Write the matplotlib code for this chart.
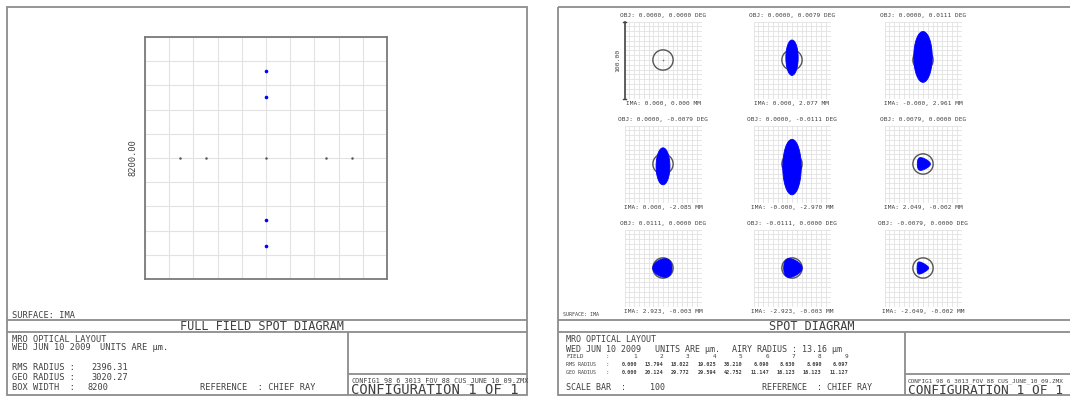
import numpy as np
import matplotlib
matplotlib.use('Agg')
import matplotlib.pyplot as plt
from matplotlib.patches import Circle, Polygon, Rectangle

W, H = 1070, 396
DPI = 100

MONO = 'DejaVu Sans Mono'
TXT = '#404040'
EDGE = '#8c8c8c'
GRID = '#e2e2e2'
SPOT = '#0000ff'

# field data (image plane in mm, object angle in deg, radii in microns)
fields = [1, 2, 3, 4, 5, 6, 7, 8, 9]
obj_x = [0.0000, 0.0000, 0.0000, 0.0000, 0.0000, 0.0079, 0.0111, -0.0111, -0.0079]
obj_y = [0.0000, 0.0079, 0.0111, -0.0079, -0.0111, 0.0000, 0.0000, 0.0000, 0.0000]
ima_x = [0.000, 0.000, -0.0, 0.000, -0.0, 2.049, 2.923, -2.923, -2.049]
ima_y = [0.000, 2.077, 2.961, -2.085, -2.970, -0.002, -0.003, -0.003, -0.002]
rms_radius = [0.000, 13.794, 18.022, 19.025, 38.210, 6.090, 8.630, 8.690, 6.097]
geo_radius = [0.000, 20.124, 29.772, 29.594, 42.752, 11.147, 16.123, 16.123, 11.127]
airy_radius = 13.16
scale_bar = 100
box_width = 8200
full_rms = 2396.31
full_geo = 3020.27

# spot outline sizes (microns): half widths, trefoil term and offset from chief ray
spot_a = [0.0, 8.0, 12.0, 9.0, 12.0, 8.5, 12.5, 12.0, 7.5]
spot_b = [0.0, 23.0, 33.0, 24.0, 36.0, 8.0, 12.0, 12.0, 7.5]
spot_c = [0.0, 0.0, 0.0, 0.0, 0.0, 1.1, -0.8, 1.2, 1.3]
spot_dx = [0.0, 0.0, 0.0, 0.0, 0.0, 0.0, 0.0, 0.0, -1.5]
spot_dy = [0.0, 3.0, 4.0, -3.0, -4.0, 0.0, 0.0, 0.0, 0.0]

fig = plt.figure(figsize=(W / DPI, H / DPI), dpi=DPI, facecolor='white')

bg = fig.add_axes([0, 0, 1, 1])
bg.set_xlim(0, W)
bg.set_ylim(H, 0)
bg.axis('off')


def px_axes(cx, cy, half):
    return fig.add_axes([(cx - half) / W, 1 - (cy + half) / H, 2 * half / W, 2 * half / H])


def line(x0, y0, x1, y1):
    bg.plot([x0, x1], [y0, y1], color=EDGE, lw=1.3, solid_capstyle='butt', zorder=1)


def txt(x, y, s, fs, ha='left', **kw):
    bg.text(x, y, s, fontsize=fs, ha=ha, va='center', family=MONO, color=TXT, **kw)


# ---------------- full field panel ----------------
bg.add_patch(Rectangle((7, 7), 520, 388, fill=False, ec=EDGE, lw=1.3))
line(7, 320, 527, 320)
line(7, 332, 527, 332)
line(348, 332, 348, 395)
line(348, 374, 527, 374)

ax = px_axes(266, 158, 121)
half = box_width / 2000.0
ax.set_xlim(-half, half)
ax.set_ylim(-half, half)
ticks = np.linspace(-half, half, 11)
ax.set_xticks(ticks)
ax.set_yticks(ticks)
ax.tick_params(length=0, labelbottom=False, labelleft=False)
ax.grid(True, color=GRID, lw=0.8)
for sp in ax.spines.values():
    sp.set_color('#7a7a7a')
    sp.set_linewidth(1.3)
for i in range(len(fields)):
    vertical = abs(ima_y[i]) > 1
    ax.plot(ima_x[i], ima_y[i], 'o',
            ms=2.6 if vertical else 1.8,
            color=SPOT if vertical else '#555566', mew=0)

txt(133, 158, '%.2f' % box_width, 6.3, ha='center', rotation=90)
txt(12, 315, 'SURFACE: IMA', 6.2)
txt(262, 326, 'FULL FIELD SPOT DIAGRAM', 8.6, ha='center')
txt(12, 340, 'MRO OPTICAL LAYOUT', 6.2)
txt(12, 348, 'WED JUN 10 2009', 6.2)
txt(100, 348, 'UNITS ARE \u00b5m.', 6.2)
txt(12, 368, 'RMS RADIUS :', 6.2)
txt(128, 368, '%.2f' % full_rms, 6.2, ha='right')
txt(12, 377, 'GEO RADIUS :', 6.2)
txt(128, 377, '%.2f' % full_geo, 6.2, ha='right')
txt(12, 388, 'BOX WIDTH  :', 6.2)
txt(88, 388, '%d' % box_width, 6.2)
txt(200, 388, 'REFERENCE  : CHIEF RAY', 6.2)
txt(351, 381, 'CONFIG1_98_6_3013_FOV_88_CUS_JUNE_10_09.ZMX', 4.9)
txt(351, 390, 'CONFIGURATION 1 OF 1', 10)

# ---------------- spot diagram panel ----------------
bg.add_patch(Rectangle((558, 7), 540, 388, fill=False, ec=EDGE, lw=1.3, clip_on=False))
line(558, 320, 1070, 320)
line(558, 332, 1070, 332)
line(905, 332, 905, 395)
line(905, 374, 1070, 374)

col_x = [663, 792, 923]
row_y = [60, 164, 268]
t = np.linspace(0, 2 * np.pi, 240)
for i, f in enumerate(fields):
    cx, cy = col_x[i % 3], row_y[i // 3]
    sax = px_axes(cx, cy, 38.5)
    sax.set_xlim(-scale_bar / 2, scale_bar / 2)
    sax.set_ylim(-scale_bar / 2, scale_bar / 2)
    g = np.linspace(-scale_bar / 2, scale_bar / 2, 17)
    sax.set_xticks(g)
    sax.set_yticks(g)
    sax.tick_params(length=0, labelbottom=False, labelleft=False)
    sax.grid(True, color=GRID, lw=0.6)
    for sp in sax.spines.values():
        sp.set_visible(False)
    sax.patch.set_alpha(0)
    sax.add_patch(Circle((0, 0), airy_radius, fill=False, ec='#555555', lw=1.0, zorder=2))
    if rms_radius[i] > 0:
        a, b, c = spot_a[i], spot_b[i], spot_c[i]
        xs = a * np.cos(t) + c * np.cos(2 * t) + spot_dx[i]
        ys = b * np.sin(t) - c * np.sin(2 * t) + spot_dy[i]
        sax.add_patch(Polygon(np.column_stack([xs, ys]), closed=True,
                              fc=SPOT, ec=SPOT, lw=0.6, zorder=3))
    else:
        sax.plot(0, 0, 'o', ms=1.2, color='#777799', mew=0, zorder=3)
    if i == 0:
        # scale bar along left edge
        sax.plot([-50, -50], [-50, 50], color='#444444', lw=1.2, clip_on=False, zorder=4)
        for yy in (-50, 50):
            sax.plot([-52.5, -47.5], [yy, yy], color='#444444', lw=1.0, clip_on=False, zorder=4)
        txt(cx - 45, cy, '%.2f' % scale_bar, 4.6, ha='center', rotation=90)
    txt(cx, cy - 45, 'OBJ: %.4f, %.4f DEG' % (obj_x[i], obj_y[i]), 4.4, ha='center')
    txt(cx, cy + 44, 'IMA: %.3f, %.3f MM' % (ima_x[i], ima_y[i]), 4.4, ha='center')

txt(563, 315, 'SURFACE: IMA', 3.6)
txt(812, 326, 'SPOT DIAGRAM', 8.6, ha='center')
txt(566, 340, 'MRO OPTICAL LAYOUT', 6.0)
txt(566, 349, 'WED JUN 10 2009', 6.0)
txt(655, 349, 'UNITS ARE \u00b5m.', 6.0)
txt(732, 349, 'AIRY RADIUS : %.2f \u00b5m' % airy_radius, 6.0)

col_right = [637 + 26.4 * k for k in range(9)]
txt(566, 357, 'FIELD', 4.2)
txt(566, 365, 'RMS RADIUS', 3.6)
txt(566, 373, 'GEO RADIUS', 3.6)
for ry in (357, 365, 373):
    txt(606, ry, ':', 4.2)
for k in range(9):
    txt(col_right[k], 357, '%d' % fields[k], 4.4, ha='right')
    txt(col_right[k], 365, '%.3f' % rms_radius[k], 3.7, ha='right', weight='bold')
    txt(col_right[k], 373, '%.3f' % geo_radius[k], 3.7, ha='right', weight='bold')

txt(566, 388, 'SCALE BAR  :', 6.0)
txt(650, 388, '%d' % scale_bar, 6.0)
txt(762, 388, 'REFERENCE  : CHIEF RAY', 6.0)
# file name and configuration squeezed to fit the right border
txt(908, 381, 'CONFIG1_98_6_3013_FOV_88_CUS_JUNE_10_09.ZMX', 4.3)
txt(908, 390, 'CONFIGURATION 1 OF 1', 9.3)

fig.savefig('out.png', dpi=DPI, facecolor='white')
